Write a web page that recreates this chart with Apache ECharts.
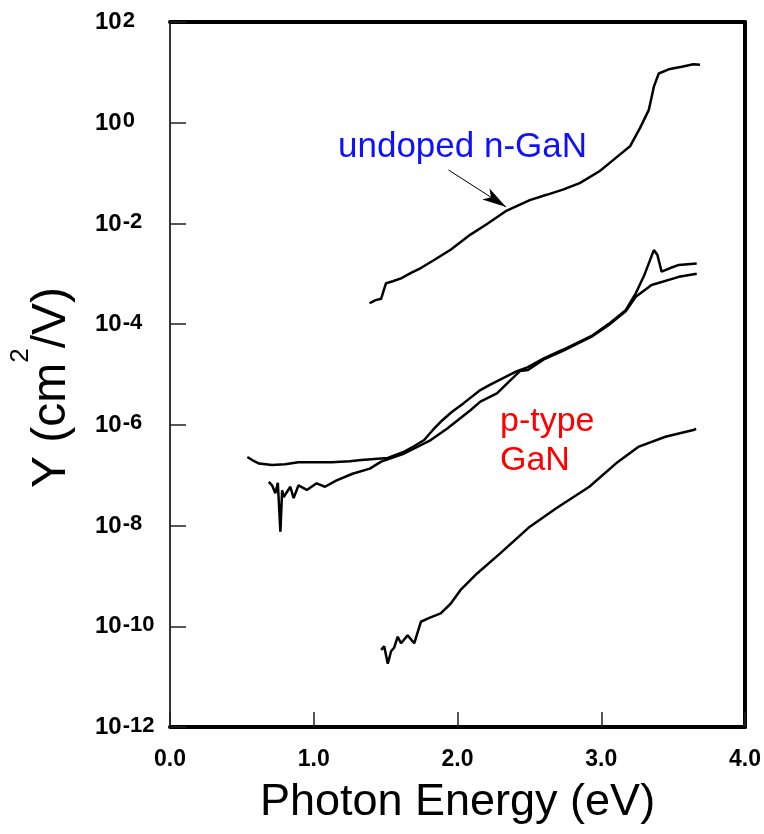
<!DOCTYPE html>
<html><head><meta charset="utf-8">
<script src="https://cdn.jsdelivr.net/npm/echarts@6/dist/echarts.min.js"></script>
<style>html,body{margin:0;padding:0;background:#fff}#c{width:764px;height:834px}</style>
</head><body><div id="c"></div>
<script>
// ---- Data (Photon energy in eV, Y in cm^2/V) ----
const xTickLabels = ['0.0', '1.0', '2.0', '3.0', '4.0'];
const yTickExponents = [-12, -10, -8, -6, -4, -2, 0, 2];

const undopedE = [1.388, 1.43, 1.469, 1.49, 1.503, 1.55, 1.607, 1.68, 1.745, 1.84, 1.952, 2.09, 2.20, 2.343, 2.503, 2.62, 2.733, 2.85, 2.99, 3.11, 3.20, 3.27, 3.331, 3.366, 3.40, 3.469, 3.56, 3.641, 3.687];
const undopedY = [2.6e-4, 3.0e-4, 3.2e-4, 5.0e-4, 6.5e-4, 7.1e-4, 8.1e-4, 1.05e-3, 1.3e-3, 1.9e-3, 3.0e-3, 6.0e-3, 9.5e-3, 1.8e-2, 2.9e-2, 3.7e-2, 4.7e-2, 6.3e-2, 1.1e-1, 2.1e-1, 3.4e-1, 7.9e-1, 1.8, 5.2, 9.5, 11.5, 12.9, 14.5, 14.1];

const pTypeAE = [0.538, 0.572, 0.62, 0.71, 0.80, 0.894, 1.0, 1.124, 1.25, 1.331, 1.423, 1.515, 1.63, 1.70, 1.768, 1.83, 1.883, 1.96, 2.043, 2.159, 2.228, 2.41, 2.49, 2.60, 2.733, 2.94, 3.05, 3.17, 3.24, 3.30, 3.366, 3.39, 3.42, 3.48, 3.54, 3.664];
const pTypeAY = [2.3e-7, 2.0e-7, 1.7e-7, 1.6e-7, 1.65e-7, 1.8e-7, 1.8e-7, 1.8e-7, 1.9e-7, 2.0e-7, 2.1e-7, 2.2e-7, 2.95e-7, 3.8e-7, 5.0e-7, 8.0e-7, 1.15e-6, 1.8e-6, 2.7e-6, 4.9e-6, 6.3e-6, 1.15e-5, 1.4e-5, 2.1e-5, 3.1e-5, 6.0e-5, 1.0e-4, 1.9e-4, 4.1e-4, 9.5e-4, 2.95e-3, 2.4e-3, 1.1e-3, 1.3e-3, 1.5e-3, 1.6e-3];

const pTypeBE = [0.687, 0.71, 0.733, 0.75, 0.768, 0.78, 0.791, 0.837, 0.86, 0.894, 0.952, 1.02, 1.078, 1.159, 1.27, 1.39, 1.469, 1.63, 1.814, 1.929, 2.09, 2.159, 2.274, 2.434, 2.49, 2.60, 2.733, 2.94, 3.05, 3.17, 3.24, 3.35, 3.54, 3.664];
const pTypeBY = [7.4e-8, 6.3e-8, 4.4e-8, 7.1e-8, 7.6e-9, 5.0e-8, 3.7e-8, 5.9e-8, 3.5e-8, 6.3e-8, 5.1e-8, 6.9e-8, 5.9e-8, 7.9e-8, 1.07e-7, 1.35e-7, 1.86e-7, 2.7e-7, 5.0e-7, 8.5e-7, 1.95e-6, 2.9e-6, 4.2e-6, 1.17e-5, 1.23e-5, 2.0e-5, 2.95e-5, 5.8e-5, 9.5e-5, 1.8e-4, 3.5e-4, 6.0e-4, 8.7e-4, 1.0e-3];

const pTypeLowE = [1.469, 1.49, 1.515, 1.538, 1.56, 1.584, 1.607, 1.653, 1.699, 1.745, 1.80, 1.883, 1.952, 2.02, 2.136, 2.297, 2.503, 2.687, 2.917, 3.101, 3.262, 3.446, 3.641, 3.66];
const pTypeLowY = [3.4e-11, 4.0e-11, 1.8e-11, 3.2e-11, 3.8e-11, 6.2e-11, 4.6e-11, 6.6e-11, 4.6e-11, 1.23e-10, 1.45e-10, 1.8e-10, 2.8e-10, 5.2e-10, 1.12e-9, 2.8e-9, 9.5e-9, 2.2e-8, 5.9e-8, 1.7e-7, 3.7e-7, 5.8e-7, 7.9e-7, 8.3e-7];

// arrow from label to the undoped curve (data coordinates)
const arrowStart = [1.938, 1.15e-1];
const arrowEnd = [2.338, 2.12e-2];

const labelUndoped = 'undoped n-GaN';
const labelPType1 = 'p-type';
const labelPType2 = 'GaN';

// ---- Chart ----
const pairs = (xs, ys) => xs.map((x, i) => [x, ys[i]]);
const FONT = 'Liberation Sans, Arial, Helvetica, sans-serif';
const chart = echarts.init(document.getElementById('c'), null, {renderer: 'canvas'});

const lineSeries = (name, xs, ys, extra) => Object.assign({
  name, type: 'line', data: pairs(xs, ys), showSymbol: false, symbol: 'none',
  lineStyle: {color: '#000', width: 2.5}, xAxisIndex: 0, yAxisIndex: 0, z: 3
}, extra || {});

const option = {
  animation: false,
  backgroundColor: '#fff',
  grid: {left: 167, right: 17, top: 22, bottom: 107, containLabel: false},
  xAxis: [{
    type: 'value', min: 0, max: 4, interval: 1, position: 'bottom',
    axisLine: {show: true, onZero: false, lineStyle: {color: '#000', width: 4}},
    axisTick: {show: true, inside: true, length: 15, lineStyle: {color: '#222', width: 1.5}},
    axisLabel: {
      margin: 21, fontFamily: FONT, fontSize: 23, fontWeight: 'bold', color: '#000',
      formatter: (v) => xTickLabels[Math.round(v)]
    },
    splitLine: {show: false},
    name: 'Photon Energy (eV)', nameLocation: 'middle', nameGap: 53,
    nameTextStyle: {fontFamily: FONT, fontSize: 45, color: '#000'}
  }, {
    type: 'value', min: 0, max: 4, position: 'top',
    axisLine: {show: true, onZero: false, lineStyle: {color: '#000', width: 4}},
    axisTick: {show: false}, axisLabel: {show: false}, splitLine: {show: false}
  }],
  yAxis: [{
    type: 'log', logBase: 10, min: 1e-12, max: 1e2, interval: 2, position: 'left',
    axisLine: {show: true, onZero: false, lineStyle: {color: '#333', width: 2}},
    axisTick: {show: true, inside: true, length: 16, lineStyle: {color: '#222', width: 1.5}},
    minorTick: {show: false}, splitLine: {show: false},
    axisLabel: {
      align: 'left', margin: 75, color: '#000',
      fontFamily: FONT, fontSize: 24, fontWeight: 'bold',
      formatter: (v) => {
        const e = Math.round(Math.log10(v));
        if (yTickExponents.indexOf(e) < 0) return '';
        return '{b|10}{s|' + e + '}';
      },
      rich: {
        b: {fontFamily: FONT, fontSize: 24, fontWeight: 'bold', color: '#000', verticalAlign: 'bottom', lineHeight: 25},
        s: {fontFamily: FONT, fontSize: 22, fontWeight: 'bold', color: '#000', verticalAlign: 'top', lineHeight: 25, padding: [0, 0, 9, 1]}
      }
    },
    name: '{a|Y (cm}{s|2}{a|/V)}', nameLocation: 'middle', nameGap: 94,
    nameTextStyle: {
      fontFamily: FONT, fontSize: 48, color: '#000',
      padding: [0, 26, 0, 0],
      rich: {
        a: {fontFamily: FONT, fontSize: 48, color: '#000', verticalAlign: 'bottom'},
        s: {fontFamily: FONT, fontSize: 26, color: '#000', verticalAlign: 'top', padding: [0, 0, 42, 0]}
      }
    }
  }, {
    type: 'value', min: 0, max: 1, position: 'right',
    axisLine: {show: true, onZero: false, lineStyle: {color: '#000', width: 4}},
    axisTick: {show: false}, axisLabel: {show: false}, splitLine: {show: false}
  }],
  series: [
    lineSeries('undoped n-GaN', undopedE, undopedY, {
      markLine: {
        silent: true, symbol: ['none', 'arrow'], symbolSize: [10, 24],
        label: {show: false},
        lineStyle: {color: '#000', width: 1, type: 'solid'},
        data: [[{coord: arrowStart}, {coord: arrowEnd}]]
      }
    }),
    lineSeries('p-type GaN A', pTypeAE, pTypeAY),
    lineSeries('p-type GaN B', pTypeBE, pTypeBY),
    lineSeries('p-type GaN low', pTypeLowE, pTypeLowY)
  ],
  graphic: [
    {type: 'text', left: 338, top: 130, style: {text: labelUndoped, fontFamily: FONT, fontSize: 35, fill: '#1010ff'}},
    {type: 'text', left: 500, top: 405, style: {text: labelPType1, fontFamily: FONT, fontSize: 34, fill: '#ff0000'}},
    {type: 'text', left: 500, top: 444, style: {text: labelPType2, fontFamily: FONT, fontSize: 34, fill: '#ff0000'}}
  ]
};
chart.setOption(option);
</script>
</body></html>
